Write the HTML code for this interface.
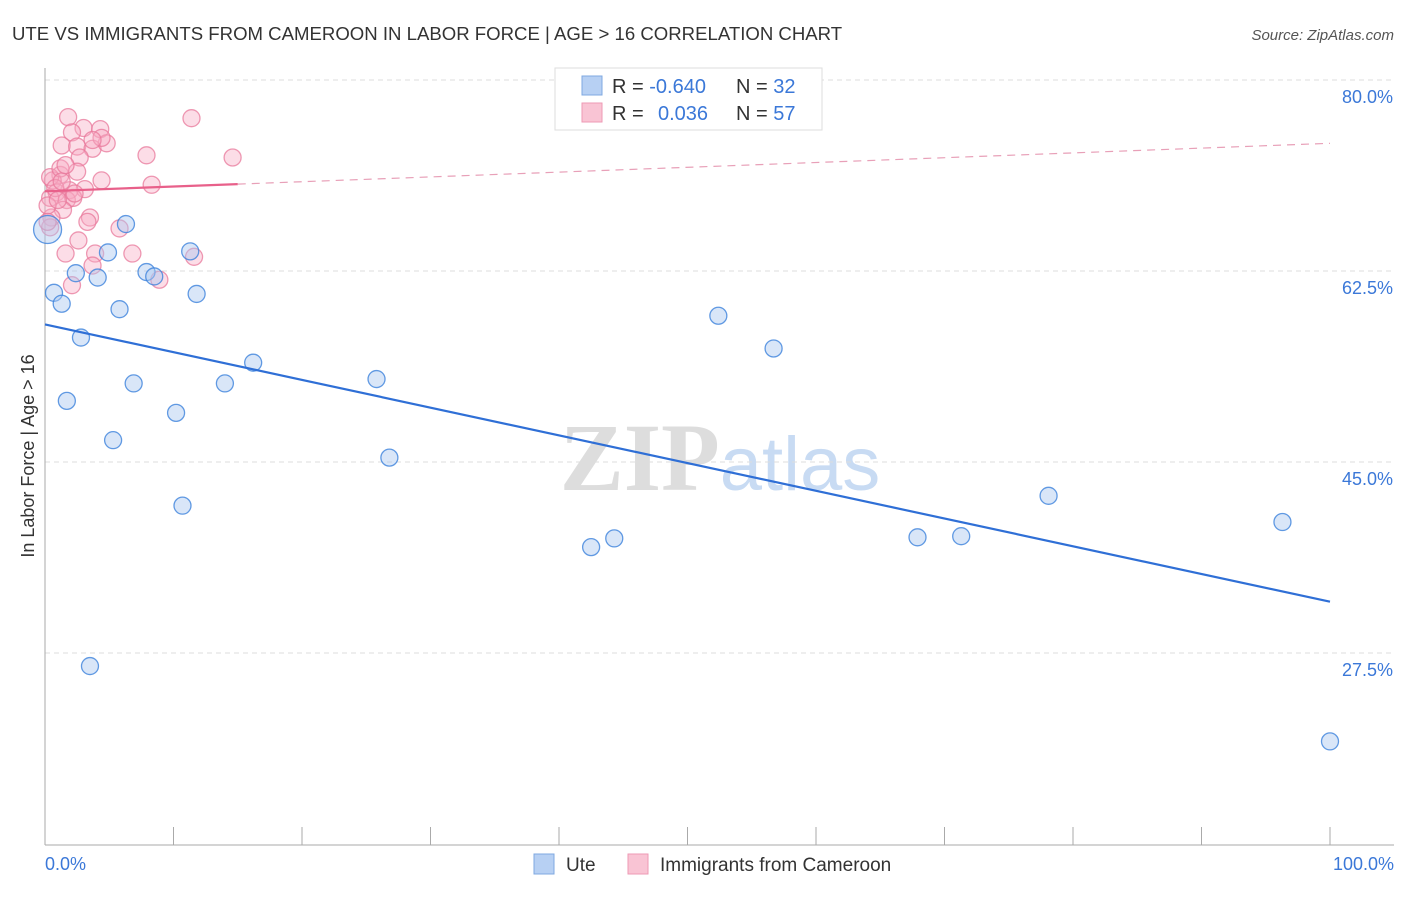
<!DOCTYPE html>
<html><head><meta charset="utf-8"><style>
body{margin:0;background:#fff;font-family:"Liberation Sans",sans-serif;}
</style></head><body>
<svg id="c" width="1406" height="892" xmlns="http://www.w3.org/2000/svg" font-family="Liberation Sans, sans-serif">
<text x="12" y="40" font-size="18.6" fill="#333">UTE VS IMMIGRANTS FROM CAMEROON IN LABOR FORCE | AGE &gt; 16 CORRELATION CHART</text>
<text x="1394" y="40" font-size="15" fill="#555" text-anchor="end" font-style="italic">Source: ZipAtlas.com</text>
<text x="720" y="490" font-size="96" fill="#ddd" text-anchor="middle" font-family="Liberation Serif, serif" font-weight="bold">ZIP<tspan fill="#c8dbf3" font-family="Liberation Sans, sans-serif" font-weight="normal" font-size="76">atlas</tspan></text>
<g id="grid"></g>
<g id="axes"></g>
<g id="pts"></g>
<g id="lines"></g>
<text transform="translate(34,456) rotate(-90)" font-size="18" fill="#333" text-anchor="middle">In Labor Force | Age &gt; 16</text>
<g>
<rect x="555" y="68" width="267" height="62" fill="#fff" stroke="#ddd"/>
<rect x="582" y="76" width="20" height="19" fill="#b7d0f3" stroke="#7fa8e0"/>
<rect x="582" y="103" width="20" height="19" fill="#f9c4d4" stroke="#ee9ab4"/>
<text x="612" y="93" font-size="20" fill="#333">R = <tspan fill="#3b78d8">-0.640</tspan>   <tspan x="736">N = </tspan><tspan fill="#3b78d8">32</tspan></text>
<text x="612" y="120" font-size="20" fill="#333">R = <tspan x="658" fill="#3b78d8">0.036</tspan><tspan x="736">N = </tspan><tspan fill="#3b78d8">57</tspan></text>
</g>
<g>
<rect x="534" y="854" width="20" height="20" fill="#b7d0f3" stroke="#7fa8e0"/>
<text x="566" y="871" font-size="19" fill="#333">Ute</text>
<rect x="628" y="854" width="20" height="20" fill="#f9c4d4" stroke="#ee9ab4"/>
<text x="660" y="871" font-size="19" fill="#333">Immigrants from Cameroon</text>
</g>
</svg>
<script>
const yTicks=[80,62.5,45,27.5];
const yTickLabels=["80.0%","62.5%","45.0%","27.5%"];
const xTickLabels=["0.0%","100.0%"];
const uteX=[0.7,1.3,2.4,4.1,4.9,6.3,5.8,2.8,1.7,6.9,5.3,10.2,7.9,8.5,11.3,11.8,14.0,16.2,10.7,25.8,26.8,3.5,42.5,44.3,52.4,56.7,67.9,71.3,78.1,96.3,100,0.2];
const uteY=[60.5,59.5,62.3,61.9,64.2,66.8,59.0,56.4,50.6,52.2,47.0,49.5,62.4,62.0,64.3,60.4,52.2,54.1,41.0,52.6,45.4,26.3,37.2,38.0,58.4,55.4,38.1,38.2,41.9,39.5,19.4,66.3];
const camX=[1.8,3.0,2.1,4.3,1.3,2.5,3.7,4.8,4.4,2.7,11.4,7.9,14.6,1.2,0.6,2.5,4.4,3.1,1.9,0.9,0.4,1.7,2.2,8.3,1.4,0.5,3.5,3.3,5.8,0.4,2.6,1.6,3.9,6.8,11.6,3.7,2.1,8.9,0.4,1.2,3.7,0.2,0.8,1.3,0.2,1.6,2.3,1.0];
const camY=[76.6,75.6,75.2,75.5,74.0,73.9,73.7,74.2,74.7,72.9,76.5,73.1,72.9,71.3,70.8,71.6,70.8,70.0,69.9,69.7,69.2,69.0,69.2,70.4,68.1,67.4,67.4,67.0,66.4,66.5,65.3,64.1,64.1,64.1,63.8,63.0,61.2,61.7,71.1,71.9,74.5,68.5,70.1,70.7,67.0,72.2,69.6,69.0];
const uteTrend=[57.6,32.2];
const camTrend=[69.8,74.2];
const camSolidEnd=15;
const NS="http://www.w3.org/2000/svg";
const X=v=>45+v*12.85, Y=v=>80+(80-v)*10.914;
function mk(p,t,a){const e=document.createElementNS(NS,t);for(const k in a)e.setAttribute(k,a[k]);p.appendChild(e);return e;}
const grid=document.getElementById('grid'),axes=document.getElementById('axes'),pts=document.getElementById('pts'),lines=document.getElementById('lines');
yTicks.forEach((t,i)=>{
 const l=mk(grid,'line',{x1:45,x2:1394,y1:Y(t),y2:Y(t),stroke:'#ddd','stroke-dasharray':'5,4'});
 
 
 const tx=mk(axes,'text',{x:1393,y:Y(t)+23,'font-size':18,fill:'#3b78d8','text-anchor':'end'});tx.textContent=yTickLabels[i];
 
 
});
const ya=mk(axes,'line',{x1:45,x2:45,y1:68,y2:845,stroke:'#aaa'});


const xa=mk(axes,'line',{x1:45,x2:1394,y1:845,y2:845,stroke:'#aaa'});


for(let i=0;i<=10;i++){const t=mk(axes,'line',{x1:X(i*10),x2:X(i*10),y1:827,y2:845,stroke:'#aaa'});
 
 }
[[0,'start',45],[1,'end',1394]].forEach(([i,a,x])=>{const t=mk(axes,'text',{x:x,y:870,'font-size':18,fill:'#3b78d8','text-anchor':a});t.textContent=xTickLabels[i];
 
 });
camX.forEach((v,i)=>{const c=mk(pts,'circle',{cx:X(v),cy:Y(camY[i]),r:8.5,fill:'rgba(247,170,195,0.4)',stroke:'rgba(232,120,155,0.75)','stroke-width':1.3});
 
 });
uteX.forEach((v,i)=>{const c=mk(pts,'circle',{cx:X(v),cy:Y(uteY[i]),r:i==uteX.length-1?14:8.5,fill:'rgba(170,200,240,0.45)',stroke:'rgba(60,130,220,0.8)','stroke-width':1.3});
 
 });
const ut=mk(lines,'line',{x1:X(0),y1:Y(uteTrend[0]),x2:X(100),y2:Y(uteTrend[1]),stroke:'#2f6fd6','stroke-width':2.2});


const cy=v=>camTrend[0]+(camTrend[1]-camTrend[0])*v/100;
const cs=mk(lines,'line',{x1:X(0),y1:Y(cy(0)),x2:X(camSolidEnd),y2:Y(cy(camSolidEnd)),stroke:'#e8608a','stroke-width':2.2});


const cd=mk(lines,'line',{x1:X(camSolidEnd),y1:Y(cy(camSolidEnd)),x2:X(100),y2:Y(cy(100)),stroke:'#e8a0b8','stroke-width':1.2,'stroke-dasharray':'8,6'});


</script>
</body></html>
